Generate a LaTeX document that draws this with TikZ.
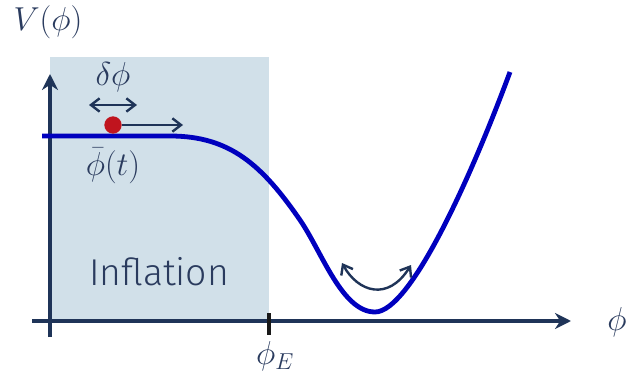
\documentclass[tikz,border=0pt]{standalone}
\usepackage{fontspec}
\newfontfamily\inflfont{Fira Sans}[UprightFont=* Light]
\usetikzlibrary{arrows.meta}
\definecolor{axiscol}{HTML}{1F3458}
\definecolor{textcol}{HTML}{2A3B5E}
\definecolor{curvecol}{HTML}{0000BE}
\definecolor{shadecol}{HTML}{D1E0E9}
\definecolor{dotcol}{HTML}{C0141E}
\tikzset{
  barbtip/.tip={Straight Barb[length=6.5pt,width=10pt]},
  axisline/.style={draw=axiscol, line width=2.3pt, -{Stealth[length=12pt,width=12pt]}},
  potential/.style={draw=curvecol, line width=3.6pt},
  smallarrow/.style={draw=axiscol, line width=1.8pt},
  mathlabel/.style={text=textcol, font=\fontsize{23}{27}\selectfont, inner sep=0pt},
}
\begin{document}
\begin{tikzpicture}[x=0.75pt, y=-0.75pt]
\useasboundingbox (0,0) rectangle (632,374);
% shaded inflation region
\fill[shadecol] (50,57) rectangle (269,321);
\node[text=textcol, font=\inflfont\fontsize{28}{32}\selectfont, inner sep=0pt] (infl) at (159,272) {Inflation};
% axes
\coordinate (yb) at (50,337);
\coordinate (yt) at (50,74);
\coordinate (xl) at (32,321);
\coordinate (xr) at (571,321);
\draw[axisline] (yb) -- (yt);
\draw[axisline] (xl) -- (xr);
% tick
\coordinate (tb) at (269,313);
\coordinate (te) at (269,335);
\draw[black!90, line width=2.4pt] (tb) -- (te);
% labels
\node[mathlabel] (V) at (48,22) {$V(\phi)$};
\node[mathlabel] (phi) at (617,322) {$\phi$};
\node[mathlabel] (phiE) at (275,356) {$\phi_E$};
\node[mathlabel] (dphi) at (113,77) {$\delta\phi$};
\node[mathlabel] (phibar) at (113,166) {$\bar\phi(t)$};
% potential
\draw[potential] (42,136) -- (170,136)
  .. controls (230,136) and (262,165) .. (300,220)
  .. controls (322,252) and (342,312) .. (375,312)
  .. controls (410,312) and (470,180) .. (510,72);
% delta phi arrow
\coordinate (da) at (89,105);
\coordinate (db) at (137,105);
\draw[smallarrow, barbtip-barbtip] (da) -- (db);
% field and velocity arrow
\node[circle, fill=dotcol, minimum size=13pt, inner sep=0pt] (dot) at (113,125) {};
\coordinate (va) at (183,125);
\draw[smallarrow, -barbtip] (dot.east) -- (va);
% oscillation arrow
\coordinate (oa) at (342,263);
\coordinate (ob) at (411,265);
\draw[smallarrow, barbtip-barbtip] (oa) .. controls (358,292) and (388,302) .. (ob);
\end{tikzpicture}
\end{document}
